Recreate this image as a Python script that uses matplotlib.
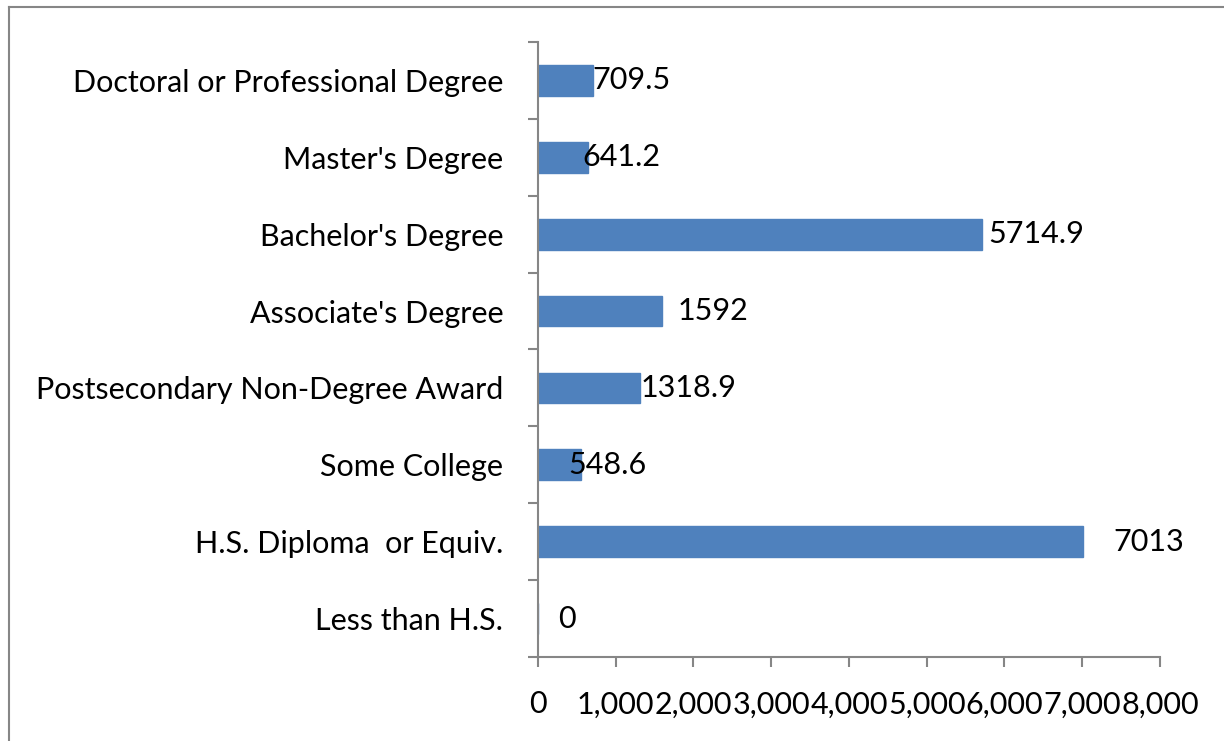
import numpy as np
import matplotlib.pyplot as plt
from matplotlib.ticker import FuncFormatter
from matplotlib.lines import Line2D

# Dati
categories = ['Less than H.S.', 'H.S. Diploma  or Equiv.', 'Some College',
              'Postsecondary Non-Degree Award', "Associate's Degree",
              "Bachelor's Degree", "Master's Degree", 'Doctoral or Professional Degree']
values = [0, 7013, 548.6, 1318.9, 1592, 5714.9, 641.2, 709.5]
value_labels = ['0', '7013', '548.6', '1318.9', '1592', '5714.9', '641.2', '709.5']
x_ticks = [0, 1000, 2000, 3000, 4000, 5000, 6000, 7000, 8000]

# spostamento orizzontale delle etichette (pixel), come nell'originale
label_nudge = [20, 30, -12, 0, 16, 6, -5, -1]

plt.rcParams['font.family'] = ['Lato', 'DejaVu Sans']
grey = '#868686'
fs = 22

fig = plt.figure(figsize=(12.24, 7.41), dpi=100)
ax = fig.add_axes([0.4395, 0.1134, 0.5082, 0.8299])

y = np.arange(len(categories))
ax.barh(y, values, height=0.4, color='#4F81BD', edgecolor='#4F81BD')

# Etichette dei valori
for yi, v, lab, dx in zip(y, values, value_labels, label_nudge):
    ax.annotate(lab, (v, yi), xytext=(dx * 0.72, 0), textcoords='offset points',
                ha='left', va='center', fontsize=fs)

ax.set_xlim(0, 8000)
ax.set_ylim(-0.5, len(categories) - 0.5)
ax.set_xticks(x_ticks)
ax.xaxis.set_major_formatter(FuncFormatter(lambda v, p: f'{int(v):,}'))

# Tick dell'asse y ai confini delle categorie
ax.set_yticks(np.arange(len(categories) + 1) - 0.5)
ax.set_yticklabels([])
ax.set_yticks(y, minor=True)
ax.set_yticklabels(categories, minor=True)
ax.tick_params(axis='y', which='major', length=7, width=1.5, color=grey, direction='out')
ax.tick_params(axis='y', which='minor', length=0, pad=25, labelsize=fs)
ax.tick_params(axis='x', length=7, width=1.5, color=grey, pad=17, labelsize=fs)

for s in ['top', 'right']:
    ax.spines[s].set_visible(False)
for s in ['left', 'bottom']:
    ax.spines[s].set_color(grey)
    ax.spines[s].set_linewidth(1.5)

# Bordo della figura (solo sopra e a sinistra)
fig.add_artist(Line2D([9 / 1224, 9 / 1224], [0, 1 - 7 / 741], color=grey, lw=1.5, transform=fig.transFigure))
fig.add_artist(Line2D([9 / 1224, 1], [1 - 7 / 741, 1 - 7 / 741], color=grey, lw=1.5, transform=fig.transFigure))

fig.savefig('out.png', dpi=100)
